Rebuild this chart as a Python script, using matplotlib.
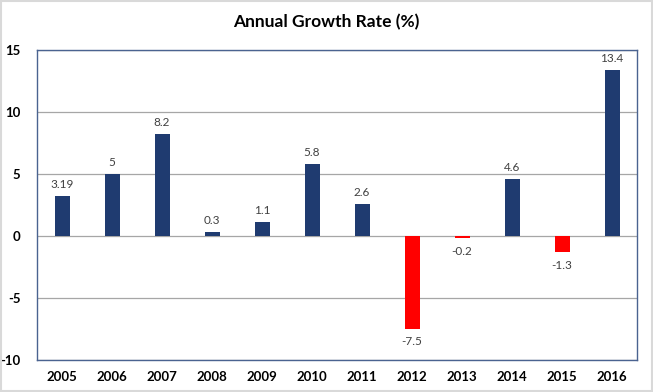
import matplotlib
matplotlib.use("Agg")
import matplotlib.pyplot as plt
from matplotlib.patches import Rectangle

years = ["2005", "2006", "2007", "2008", "2009", "2010", "2011", "2012", "2013", "2014", "2015", "2016"]
growth = [3.19, 5, 8.2, 0.3, 1.1, 5.8, 2.6, -7.5, -0.2, 4.6, -1.3, 13.4]
labels = ["3.19", "5", "8.2", "0.3", "1.1", "5.8", "2.6", "-7.5", "-0.2", "4.6", "-1.3", "13.4"]
yticks = [-10, -5, 0, 5, 10, 15]

plt.rcParams['font.family'] = ['Lato', 'DejaVu Sans']

fig = plt.figure(figsize=(6.53, 3.92), dpi=100)
fig.patches.append(Rectangle((0.002, 0.003), 0.996, 0.994, transform=fig.transFigure,
                             fill=False, edgecolor='#d9d9d9', linewidth=1.5))
ax = fig.add_axes([37/653, 32/392, 600/653, 310/392])

x = list(range(len(years)))
colors = ['#1f3b70' if v >= 0 else '#ff0000' for v in growth]
ax.bar(x, growth, width=0.3, color=colors, zorder=3)

ax.set_xlim(-0.5, len(years) - 0.5)
ax.set_ylim(-10, 15)
ax.set_yticks(yticks)
ax.set_yticklabels([str(t) for t in yticks], fontsize=9.5, fontweight='bold')
ax.set_xticks(x)
ax.set_xticklabels(years, fontsize=9.5, fontweight='bold')
ax.tick_params(length=0, pad=8)
ax.tick_params(axis='y', pad=12)
ax.grid(axis='y', color='#a6a6a6', linewidth=0.9, zorder=0)
for s in ax.spines.values():
    s.set_color('#4a6390')
    s.set_linewidth(1.0)

for xi, v, lab in zip(x, growth, labels):
    off = 0.5 if v >= 0 else -0.6
    ax.text(xi, v + off, lab, ha='center', va='bottom' if v >= 0 else 'top',
            fontsize=8.5, color='#404040', zorder=4)

fig.text(0.5, 1 - 22/392, "Annual Growth Rate (%)", ha='center', va='center',
         fontsize=12.5, fontweight='bold')

fig.savefig("out.png", dpi=100)
